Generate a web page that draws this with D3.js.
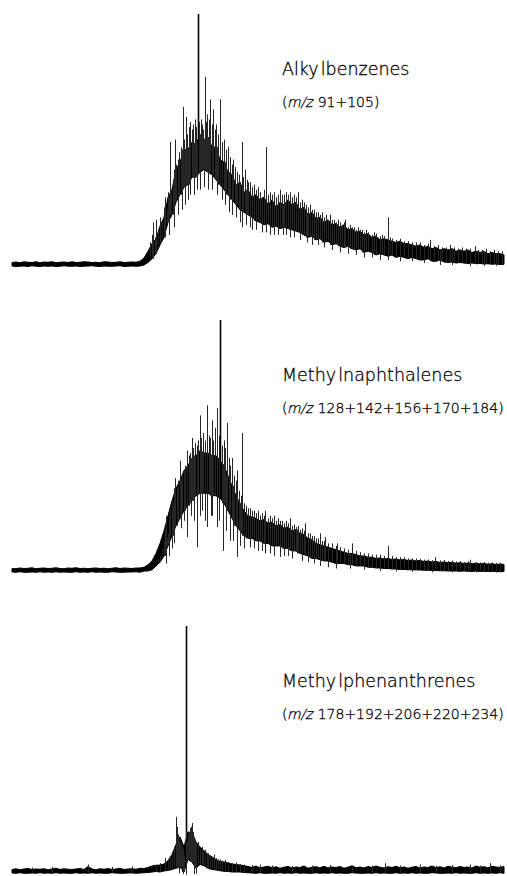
<!DOCTYPE html>
<html>
<head>
<meta charset="utf-8">
<script src="https://cdn.jsdelivr.net/npm/d3@7"></script>
<style>
  html, body { margin: 0; padding: 0; background: #fff; }
  svg { display: block; }
  .lbl { font-family: "DejaVu Sans", Verdana, sans-serif; font-weight: 200; fill: #000; stroke: #000; stroke-width: 0.3px; }
</style>
</head>
<body>
<svg id="chart" width="507" height="876"></svg>
<script>
// Ion chromatograms: relative intensity (% of the tallest peak) per scan.
// Each scan holds the low and high edge of the signal band, plus isolated
// peaks rising above it and dips falling below it.

const panelNames = ["Alkylbenzenes", "Methylnaphthalenes", "Methylphenanthrenes"];
const ionLists = ["91+105", "128+142+156+170+184", "178+192+206+220+234"];

// ---- Alkylbenzenes (m/z 91+105)
const alkylUpper = [
  1.0,1.2,0.9,1.3,1.1,1.0,1.3,0.9,1.2,1.1,
  1.3,0.9,1.1,1.2,1.0,1.3,1.0,1.1,1.3,1.2,
  1.0,1.1,0.9,1.3,1.2,1.0,1.1,1.3,1.0,1.1,
  1.2,1.1,1.5,2.8,5.5,8.5,10.5,15.5,19,27,
  30,38,41,46,46,49,48,52,50,51,
  47,47,42,41,37,36,32,33,29,30,
  27,28,26,27,24,26,23,25,24,26,
  24,25,22,23,20,21,18.5,19,17,18,
  16,16.5,15,16,14,14.5,13,13.5,12,12.5,
  11,11.5,10,10.5,10,9.5,9,9.5,8.5,8.5,
  8,7.5,8,7,7.5,6.5,7,6,6.5,6,
  6.5,5.5,6,5.5,6,5,5.5,5,5.5,4.5,
  5,4.5,4.5,4
];
const alkylLower = [
  -0.4,-0.6,-0.5,-0.4,-0.6,-0.3,-0.5,-0.6,-0.4,-0.5,
  -0.4,-0.6,-0.5,-0.3,-0.5,-0.5,-0.4,-0.6,-0.5,-0.4,
  -0.3,-0.5,-0.6,-0.4,-0.5,-0.5,-0.4,-0.3,-0.6,-0.5,
  -0.4,-0.5,-0.4,0,1,2.5,4.5,8,11,17,
  20,25,28,31,32,35,35,37,38,37,
  36,34,32,30,28,26,24,22,21,20,
  19,17.5,17,16,16.5,15,15.5,14.5,15,14.5,
  14,13.5,13,12,11,11.5,10,10.5,9,9.5,
  8,8.5,7.5,7,7.5,6.5,6,6.5,5,5.5,
  5,4,4.5,4,3.5,4,3,3.5,3,2.5,
  3,2.5,2,2,2.5,1.5,1.5,2,1.2,1,
  1.2,0.8,1,0.8,0.6,0.8,0.5,0.6,0.4,0.5,
  0.3,0.4,0.2,0.3
];
const alkylSpikes = [
  [34.5,9],[35,12],[35.25,17],[35.75,11],[36,18],[36.5,14],[37,19],[37.5,17],
  [38,23],[38.25,27],[38.75,22],[39,29],[39.5,49],[39.75,30],[40.25,34],
  [40.75,50],[41,40],[41.5,42],[41.75,45],[42.25,47],[42.75,63],[43,50],
  [43.5,59],[43.75,52],[44.25,55],[44.5,57],[45,54],[45.25,56],[45.75,58],
  [46,55],[46.5,100],[46.75,57],[47.25,58],[47.5,56],[47.75,54],[48.25,75],
  [48.5,57],[48.75,60],[49.25,58],[49.5,66],[50,56],[50.25,62],[50.75,54],
  [51,56],[51.5,52],[52,66],[52.5,49],[53,50],[53.5,46],[54,47],[54.5,43],
  [55,40],[55.25,42],[55.75,39],[56.25,37],[56.75,36],[57.5,49],[57.75,35],
  [58.25,38],[58.75,34],[59,33],[59.5,33],[60,31],[60.5,32],[61,30],
  [61.5,31],[62,29],[62.5,27],[63,30],[63.5,47],[64,28],[64.5,29],[65,28],
  [65.5,29],[66,27],[66.5,28],[67,30],[67.5,28],[68,28],[68.5,29],[69,28],
  [69.5,29],[70,27],[70.5,28],[71,27],[71.5,29],[72,25],[72.5,26],[73,25],
  [73.5,24],[74,23],[74.5,24],[75,22],[75.5,22],[76,21],[76.5,21],[77,20],
  [77.5,21],[78,19],[78.5,20],[79,18],[79.5,20],[80,18],[80.5,18],[81,17],
  [81.5,18],[82,17],[82.5,16],[83,17],[83.25,18],[84,15],[84.5,16],[85,15],
  [85.5,15],[86,14],[86.5,15],[87,14],[87.5,14],[88,13],[88.5,14],[89,13],
  [90,12],[90.5,13],[91,12.5],[92,11.5],[92.5,12],[93,11.5],[94,19],[94.5,11],
  [95,10.5],[96,10],[97,10.5],[98,9.5],[99,9.5],[100,9],[101,9],[102,9],
  [103,8],[104,8.5],[104.5,10],[105.5,7.5],[106.5,8],[107.5,7],[108.5,7],
  [109.5,8],[110.5,7],[111.5,6.5],[112.5,7],[113.5,6.5],[114.5,6.5],
  [115.75,7.5],[116.5,6],[117.5,6],[118.5,6.5],[119.5,5.5],[120.5,6],
  [121.5,5.5],[122.5,5.5]
];
const alkylDips = [
  [39.25,12],[40.5,15],[41.5,20],[42.5,22],[43.25,24],[44,26],[44.5,28],
  [45.5,28],[46.25,30],[47,30],[48,31],[49,30],[50,30],[51.25,28],[52.5,26],
  [53.25,24],[54.25,21],[55,20],[56,19],[57,17],[57.5,15],[58.5,16],
  [59.5,15],[60,14],[61,14],[62.5,13],[63.5,13],[64.5,12],[65.5,12],
  [66.5,12],[67.75,12],[68.5,12],[69.5,11],[70.5,11],[72,10],[73.75,9],
  [75,8],[76.5,8],[78,7],[80,6],[82,5],[84,4.5],[86,4],[88,3],[90,3],
  [92,2],[94,2],[97,1.5],[100,1.5],[103,0.8],[107,0],[110,0],[114.5,-0.5],
  [118,-0.3],[121,-0.3]
];

// ---- Methylnaphthalenes (m/z 128+142+156+170+184)
const naphUpper = [
  1.0,0.9,1.2,1.0,1.1,1.3,0.9,1.1,1.2,1.0,
  1.1,1.3,1.0,0.9,1.2,1.1,1.3,1.0,1.1,0.9,
  1.1,1.2,1.0,1.1,0.9,1.1,1.3,1.0,1.2,1.1,
  1.0,1.2,1.2,1.5,2.5,4,7,11,16,22,
  28,33,36,40,42,45,46,48,47,47,
  46,46,44,42,38,34,30,27,24,22,
  21.5,21,20,20.5,19,19.5,18,18.5,17,17.5,
  16,16.5,15,14.5,13,12.5,11,10.5,10,9.5,
  9,8.5,8,7.5,7,7,6.5,6,6,5.5,
  5.5,5,5.2,4.8,5,4.6,4.8,4.4,4.6,4.2,
  4.4,4,4.2,3.8,4,3.6,3.8,3.4,3.6,3.3,
  3.5,3.1,3.3,3,3.2,2.9,3.1,2.8,3,2.7,
  2.9,2.6,2.8,2.6
];
const naphLower = [
  -0.4,-0.5,-0.3,-0.5,-0.5,-0.4,-0.5,-0.3,-0.5,-0.4,
  -0.5,-0.3,-0.5,-0.4,-0.5,-0.5,-0.3,-0.5,-0.4,-0.5,
  -0.3,-0.5,-0.4,-0.5,-0.5,-0.3,-0.4,-0.5,-0.5,-0.4,
  -0.4,-0.3,-0.5,0,0,0.5,2,3.5,6,10,
  14,18,21,24,26,28,30,31,31,31,
  30,30,29,27,24,21,18,16,14,13,
  13,12,12,11,11,10,10,10,9,9,
  8,8,7,6.5,6,5,5,4.5,4,4,
  3.5,3,3,3,2.5,2.5,2,2,2,1.5,
  1.5,1.2,1.2,1,1,0.8,0.8,0.6,0.6,0.5,
  0.5,0.4,0.4,0.3,0.3,0.2,0.2,0.1,0.1,0,
  0,0,-0.1,0,-0.1,-0.2,0,-0.2,-0.1,-0.2,
  -0.2,-0.1,-0.3,-0.2
];
const naphSpikes = [
  [36.5,5],[37,6],[37.5,9],[38,12],[38.25,17.5],[38.75,13],[39,15],[39.5,25],
  [40,22],[40.25,26],[40.75,37],[41.25,33],[41.5,35],[42,44],[42.5,38],[43,40],
  [43.25,42],[43.75,48],[44.25,46],[44.5,47],[45,53],[45.25,49],[45.75,51],
  [46.25,50],[46.5,52],[47,62],[47.25,53],[47.75,55],[48.25,52],[48.75,66],
  [49.25,54],[49.5,53],[50,60],[50.25,52],[50.75,57],[51.25,65],[51.75,54],
  [52,100],[52.5,50],[53,52],[53.25,49],[53.75,59],[54.25,45],[54.5,42],
  [55,45],[55.5,38],[56,36],[56.25,40],[56.75,32],[57.25,30],[57.5,55],
  [58,27],[58.5,26],[59,25],[59.5,25],[60,24],[60.5,24],[61,23],[61.5,24],
  [62,22],[62.5,23],[63,22],[63.25,24],[64,21],[64.5,22],[65,21],[65.5,22],
  [66,20],[66.5,21],[67,20],[67.5,20],[68,19],[68.5,20],[69,19],[69.5,21],
  [70,18],[70.5,18.5],[71,17.5],[71.5,18],[72,16.5],[72.5,17],[73,16],
  [73.25,19],[74,15],[74.5,15],[75,14],[75.5,14],[76,13],[76.5,13],[77,15],
  [77.5,12],[78,12],[78.25,13.5],[79,11],[80,11],[81,10],[81.25,11],[82,9.5],
  [83,9],[84,8.5],[85,11],[86,8],[87,7.5],[88,7],[89,7],[90,6.5],[91,6.5],
  [92,6.5],[93,6],[94,10],[95,6],[96,5.5],[97,5.5],[98,5.5],[99,5],[100,5],
  [101,5],[102,4.8],[103,4.5],[104,4.6],[105,4.3],[105.75,5.5],[107,4.2],
  [108,4.4],[109,4],[110,4.2],[111,3.8],[112,4],[113,3.6],[114,3.8],
  [114.5,4.5],[116,3.6],[117,3.4],[118,3.6],[119,3.3],[120,3.4],[121,3.2],
  [122,3.3]
];
const naphDips = [
  [38.5,3],[39.25,6],[40,9],[40.5,11],[41.5,20],[42.25,17],[43,20],
  [43.75,13.5],[44.75,22],[45.5,20],[46.25,9.5],[47,22],[47.5,24],
  [48.25,20],[48.75,17.5],[49.75,22],[50,22],[51.25,17.5],[51.75,20],
  [52.75,8],[53.5,16],[54.5,12],[55.25,12],[56.25,5.6],[57,10],[58,9],
  [59.5,9.5],[60.5,9],[61.5,8],[62.5,8],[63.25,7],[64.5,7],[65.5,6],
  [67,5.6],[68,6],[69,6],[70,5],[71.25,7],[72.5,4],[74,3.5],[75.5,3],
  [77,2],[79,1.5],[81,1],[84.5,1],[88,0.5],[92,0],[96,-0.2],[100,-0.3],
  [105,-0.5],[110,-0.5],[116,-0.6],[121,-0.6]
];

// ---- Methylphenanthrenes (m/z 178+192+206+220+234)
const phenUpper = [
  1.0,1.3,0.9,1.2,1.4,1.0,1.2,1.1,1.3,0.9,
  1.2,1.5,1.0,1.3,1.1,1.0,1.2,1.4,1.0,2.2,
  1.2,0.9,1.3,1.1,1.4,1.0,1.2,1.5,1.0,1.2,
  1.3,1.1,1.5,1.4,1.8,2.4,2.6,2.8,3.2,4.5,
  7,11,14,10,16,15,12,10,8.5,7,
  6,5,4.2,4,3.6,3.2,3,2.8,2.5,2.2,
  1.8,2.4,1.6,2.0,2.3,1.7,2.1,1.5,1.9,2.2,
  1.6,2.0,1.8,2.4,1.5,1.9,2.1,1.7,2.3,1.6,
  2.0,1.8,2.2,1.5,1.9,2.5,1.7,2.0,1.6,2.2,
  1.8,2.4,1.9,1.6,2.1,1.8,2.3,1.7,2.0,1.5,
  1.9,2.2,1.6,2.0,1.8,2.4,1.7,2.1,1.6,2.3,
  1.9,1.7,2.2,1.8,2.0,1.6,2.4,1.9,2.1,1.7,
  2.3,2.0,1.8,2.2
];
const phenLower = [
  -0.4,-0.5,-0.3,-0.5,-0.5,-0.4,-0.5,-0.3,-0.5,-0.4,
  -0.5,-0.3,-0.5,-0.4,-0.5,-0.5,-0.3,-0.5,-0.4,-0.5,
  -0.3,-0.5,-0.4,-0.5,-0.5,-0.3,-0.4,-0.5,-0.5,-0.4,
  -0.4,-0.5,-0.4,-0.3,-0.2,0,0.2,0,0.4,0.6,
  1,1.5,2,0,5,4,1.5,3,2.5,1.5,
  1,0.8,0.5,0.3,0.2,0,0,0,-0.2,-0.3,
  -0.4,-0.5,-0.3,-0.5,-0.5,-0.4,-0.5,-0.3,-0.5,-0.4,
  -0.5,-0.3,-0.5,-0.4,-0.5,-0.5,-0.3,-0.5,-0.4,-0.5,
  -0.3,-0.5,-0.4,-0.5,-0.5,-0.3,-0.4,-0.5,-0.5,-0.4,
  -0.5,-0.3,-0.5,-0.4,-0.5,-0.5,-0.3,-0.5,-0.4,-0.5,
  -0.3,-0.5,-0.4,-0.5,-0.5,-0.3,-0.4,-0.5,-0.5,-0.4,
  -0.5,-0.3,-0.5,-0.4,-0.5,-0.5,-0.3,-0.5,-0.4,-0.5,
  -0.4,-0.5,-0.3,-0.5
];
const phenSpikes = [
  [5,1.8],[10,2],[19,3],[25,2],[30,2.2],[36,3],[37,3.5],[38.25,5.6],[39,5],
  [39.5,6],[40,8],[40.5,10],[41,22],[41.25,18],[41.5,15],[41.75,13],[42,12],
  [42.25,11],[42.5,9],[43,7],[43.5,98],[43.75,12],[44,15],[44.25,16],
  [44.5,17.5],[44.75,18],[45,19.5],[45.25,16],[45.5,14],[45.75,13],[46,12],
  [46.5,12],[47,9],[47.5,10],[47.75,8],[48.25,8.8],[48.75,7],[49,7.5],
  [49.5,6.5],[50,6],[50.5,7],[51,5.5],[51.5,5],[52,5],[52.5,4.5],[53.25,4.8],
  [54,4],[55,3.5],[56,3.8],[57,3.2],[58,3],[60,2.8],[62,3],[65,2.6],[70,2.4],
  [75,2.6],[79.5,2.8],[85,2.5],[90,2.6],[93.25,3.5],[97,2.6],[102,3],
  [106,2.5],[110,2.8],[114.5,3],[117,2.6],[119.5,3.5],[122,2.7]
];
const phenDips = [[41.75,-0.5],[42.75,-0.8],[43.5,-1],[45.5,-0.8],[46,-0.6]];

// ---- layout
const plotLeft = 12, plotRight = 504;
const baselines = [265, 571, 872];     // zero-intensity line of each trace
const fullScale = 251;                 // pixels for 100 %
const titleY = [75, 381, 687];
const ionY = [107, 413, 719];
const labelX = 282;

const panels = [
  { upper: alkylUpper, lower: alkylLower, spikes: alkylSpikes, dips: alkylDips },
  { upper: naphUpper,  lower: naphLower,  spikes: naphSpikes,  dips: naphDips },
  { upper: phenUpper,  lower: phenLower,  spikes: phenSpikes,  dips: phenDips }
];

const svg = d3.select("#chart");

panels.forEach((p, k) => {
  const n = p.upper.length;
  const x = d3.scaleLinear().domain([0, n - 1]).range([plotLeft, plotRight]);
  const y = d3.scaleLinear().domain([0, 100]).range([baselines[k], baselines[k] - fullScale]);
  const px = v => Math.round(x(v)) + 0.5;   // centre hairlines on a pixel column
  const g = svg.append("g").attr("class", "trace");

  const band = d3.area()
    .x((d, i) => x(i))
    .y0((d, i) => y(p.lower[i]))
    .y1((d, i) => y(p.upper[i]));

  g.append("path")
    .datum(p.upper)
    .attr("d", band)
    .attr("fill", "#000")
    .attr("stroke", "#000")
    .attr("stroke-width", 1)
    .attr("stroke-linejoin", "miter");

  const vline = d3.line().x(d => d[0]).y(d => d[1]);

  g.selectAll("path.peak")
    .data(p.spikes)
    .join("path")
    .attr("class", "peak")
    .attr("d", d => {
      const i = Math.min(n - 1, Math.round(d[0]));
      return vline([[px(d[0]), y(p.lower[i])], [px(d[0]), y(d[1])]]);
    })
    .attr("stroke", d => d[1] >= 95 ? "#000" : "#262626")
    .attr("stroke-width", d => d[1] >= 95 ? 1.6 : 1)
    .attr("fill", "none");

  g.selectAll("path.dip")
    .data(p.dips)
    .join("path")
    .attr("class", "dip")
    .attr("d", d => {
      const i = Math.min(n - 1, Math.round(d[0]));
      return vline([[px(d[0]), y(p.upper[i])], [px(d[0]), y(d[1])]]);
    })
    .attr("stroke", "#262626")
    .attr("stroke-width", 1)
    .attr("fill", "none");

  // compound class name
  const name = panelNames[k];
  const cut = name.indexOf("yl") + 1;
  const t = svg.append("text")
    .attr("class", "lbl")
    .attr("x", labelX)
    .attr("y", titleY[k])
    .attr("font-size", 17.5);
  t.append("tspan").text(name.slice(0, cut));
  t.append("tspan").attr("dx", 2).text(name.slice(cut));

  // summed ions, with a slanted m/z
  const s = svg.append("g")
    .attr("transform", `translate(${labelX},${ionY[k]})`)
    .attr("font-size", 14);
  const open = s.append("text").attr("class", "lbl").text("(");
  const w1 = open.node().getComputedTextLength();
  const mz = s.append("text").attr("class", "lbl")
    .attr("transform", `translate(${w1 - 0.5},0) skewX(-13)`)
    .text("m/z");
  const w2 = mz.node().getComputedTextLength();
  s.append("text").attr("class", "lbl")
    .attr("x", w1 + w2 + 4.5)
    .text(ionLists[k] + ")");
});
</script>
</body>
</html>
